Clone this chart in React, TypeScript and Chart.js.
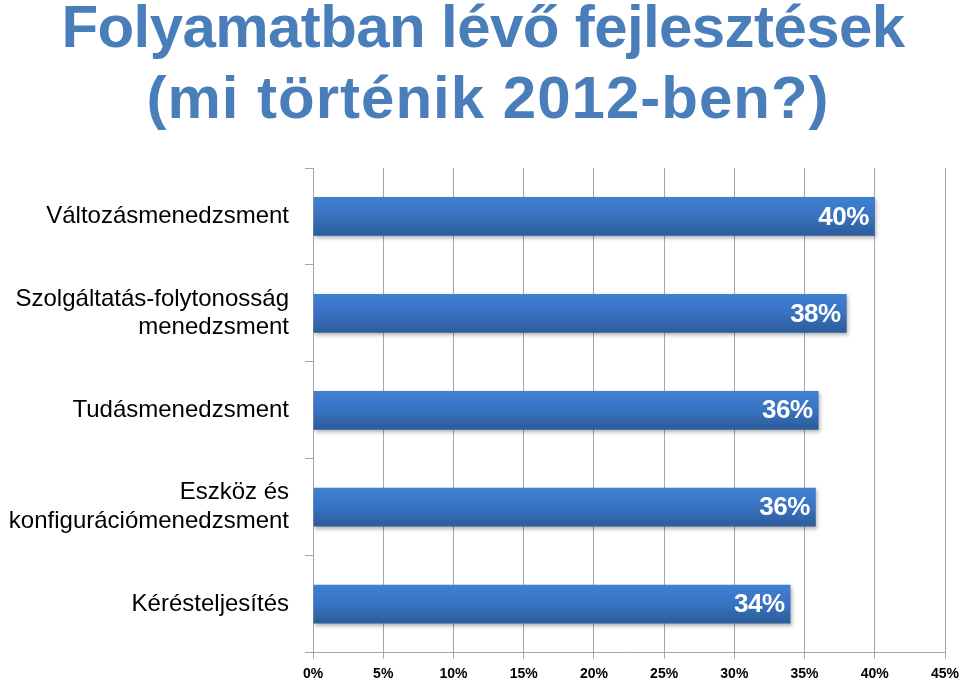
import React, { useEffect, useRef } from "react";
import { Chart, registerables } from "chart.js";

Chart.register(...registerables);

const titleLines = ["Folyamatban lévő fejlesztések", "(mi történik 2012-ben?)"];
const categories: (string | string[])[] = [
  "Változásmenedzsment",
  ["Szolgáltatás-folytonosság", "menedzsment"],
  "Tudásmenedzsment",
  ["Eszköz és", "konfigurációmenedzsment"],
  "Kérésteljesítés",
];
const values = [40, 38, 36, 35.8, 34];
const valueLabels = ["40%", "38%", "36%", "36%", "34%"];
const xMin = 0;
const xMax = 45;
const xStep = 5;

const titlePlugin = {
  id: "customTitle",
  afterDraw(chart: any) {
    const ctx = chart.ctx;
    ctx.save();
    ctx.fillStyle = "#4a7ebb";
    ctx.font = "bold 60px 'Liberation Sans', Arial, sans-serif";
    ctx.textAlign = "center";
    ctx.textBaseline = "alphabetic";
    const specs = [
      { cx: 483, base: 47, ls: "-0.6px" },
      { cx: 488, base: 118, ls: "1px" },
    ];
    titleLines.forEach((t, i) => {
      (ctx as any).letterSpacing = specs[i].ls;
      ctx.fillText(t, specs[i].cx, specs[i].base);
    });
    ctx.restore();
  },
};

const barLabelPlugin = {
  id: "barLabels",
  beforeDatasetDraw(chart: any) {
    const ctx = chart.ctx;
    ctx.save();
    ctx.shadowColor = "rgba(0,0,0,0.3)";
    ctx.shadowBlur = 4;
    ctx.shadowOffsetX = 1;
    ctx.shadowOffsetY = 2;
  },
  afterDatasetDraw(chart: any) {
    chart.ctx.restore();
  },
  afterDatasetsDraw(chart: any) {
    const ctx = chart.ctx;
    const meta = chart.getDatasetMeta(0);
    ctx.save();
    ctx.fillStyle = "#ffffff";
    ctx.font = "bold 26px 'Liberation Sans', Arial, sans-serif";
    (ctx as any).letterSpacing = "-0.5px";
    ctx.textAlign = "right";
    ctx.textBaseline = "middle";
    meta.data.forEach((bar: any, i: number) => {
      ctx.fillText(valueLabels[i], bar.x - 6, bar.y + 1);
    });
    ctx.restore();
  },
};

export default function App() {
  const ref = useRef<HTMLCanvasElement>(null);
  useEffect(() => {
    document.body.style.margin = "0";
    const canvas = ref.current!;
    const chart = new Chart(canvas, {
      type: "bar",
      data: {
        labels: categories,
        datasets: [
          {
            data: values,
            backgroundColor: (c: any) => {
              const ys = c.chart.scales && c.chart.scales.y;
              if (!ys || !c.chart.chartArea || c.dataIndex === undefined) return "#3a72bd";
              const y = ys.getPixelForValue(c.dataIndex);
              const band = Math.abs(ys.getPixelForValue(1) - ys.getPixelForValue(0));
              const h = (band * 0.4) / 2;
              if (!isFinite(y) || !isFinite(h)) return "#3a72bd";
              const g = c.chart.ctx.createLinearGradient(0, y - h, 0, y + h);
              g.addColorStop(0, "#3f80d3");
              g.addColorStop(0.45, "#3a74c3");
              g.addColorStop(1, "#2c5c9a");
              return g;
            },
            borderWidth: 0,
            barPercentage: 0.4,
            categoryPercentage: 1,
          },
        ],
      },
      options: {
        indexAxis: "y",
        animation: false,
        responsive: false,
        maintainAspectRatio: false,
        layout: { padding: { left: 0, right: 0, top: 168, bottom: 0 } },
        plugins: {
          legend: { display: false },
          tooltip: { enabled: false },
          title: { display: false },
        },
        scales: {
          x: {
            min: xMin,
            max: xMax,
            ticks: {
              stepSize: xStep,
              color: "#000",
              font: { family: "'Liberation Sans', Arial, sans-serif", size: 14, weight: "bold" },
              callback: (v: any) => v + "%",
              maxRotation: 0,
              padding: 7,
            },
            grid: { color: "#a6a6a6", lineWidth: 1, tickLength: 6, drawTicks: true },
            border: { color: "#a6a6a6" },
            afterFit: (s: any) => {
              s.height = 28;
              s.paddingRight = 15;
              s.paddingLeft = 0;
            },
          },
          y: {
            ticks: {
              color: "#000",
              font: { family: "'Liberation Sans', Arial, sans-serif", size: 24, lineHeight: 1.2 },
              padding: 16,
            },
            grid: { drawOnChartArea: false, color: "#a6a6a6", tickLength: 8, offset: true },
            border: { color: "#a6a6a6" },
            afterFit: (s: any) => {
              s.width = 313;
            },
          },
        },
      },
      plugins: [barLabelPlugin, titlePlugin],
    } as any);
    return () => chart.destroy();
  }, []);
  return (
    <div style={{ width: 960, height: 683 }}>
      <canvas ref={ref} width={960} height={683} style={{ display: "block" }} />
    </div>
  );
}
